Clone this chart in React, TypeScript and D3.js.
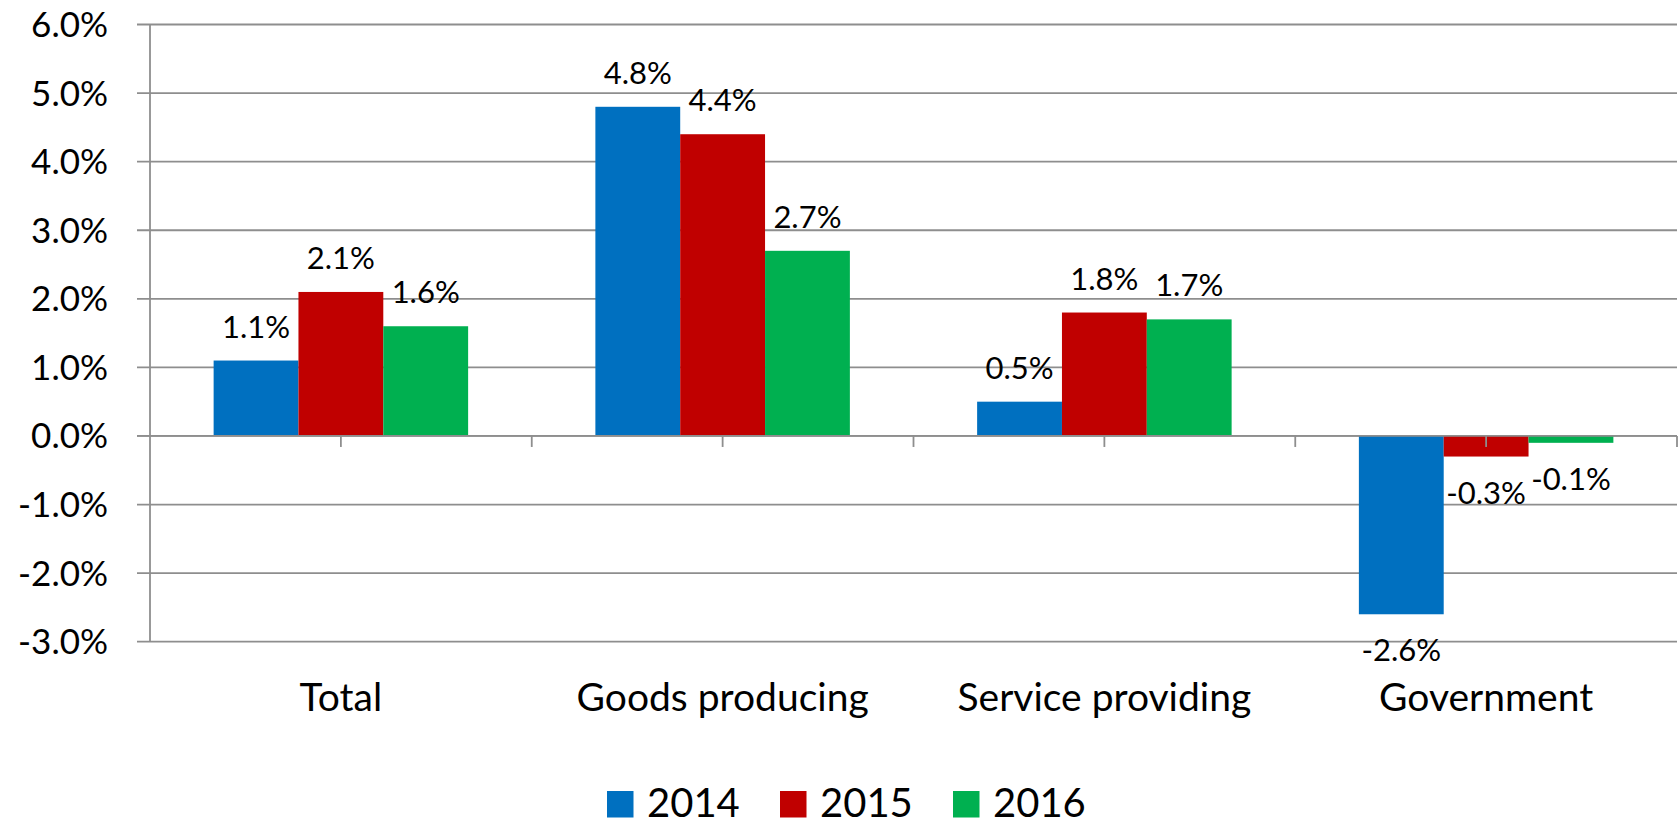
import React from "react";
import * as d3 from "d3";

const categories = ["Total", "Goods producing", "Service providing", "Government"];
const seriesNames = ["2014", "2015", "2016"];
const values2014 = [1.1, 4.8, 0.5, -2.6];
const values2015 = [2.1, 4.4, 1.8, -0.3];
const values2016 = [1.6, 2.7, 1.7, -0.1];
const seriesValues = [values2014, values2015, values2016];
const seriesColors = ["#0070C0", "#C00000", "#00B050"];
const yTicks = [-3, -2, -1, 0, 1, 2, 3, 4, 5, 6];

const W = 1679;
const H = 826;
const FONT = "Lato, 'Open Sans', sans-serif";
const GRID = "#8e8e8e";

export default function App() {
  const left = 150;
  const right = 1677;
  const top = 24.5;
  const bottom = 641.7;

  const x = d3.scaleBand<string>().domain(categories).range([left, right]).paddingInner(0).paddingOuter(0);
  const y = d3.scaleLinear().domain([-3, 6]).range([bottom, top]);
  const bw = x.bandwidth() / 4.5;
  const inner = d3.scaleBand<string>().domain(seriesNames).range([0.75 * bw, 3.75 * bw]);

  const tickXs: number[] = [];
  categories.forEach((c) => {
    tickXs.push((x(c) as number) + x.bandwidth() / 2);
    tickXs.push((x(c) as number) + x.bandwidth());
  });

  const fmt = (v: number) => `${v.toFixed(1)}%`;

  const legendStart = 607;
  const legendStride = 173;

  return (
    <svg width={W} height={H} style={{ position: "absolute", left: 0, top: 0, background: "#fff" }} fontFamily={FONT}>
      <rect x={0} y={0} width={W} height={H} fill="#fff" />
      {/* gridlines */}
      {yTicks.map((t) => (
        <line key={"g" + t} x1={137} x2={right} y1={y(t)} y2={y(t)} stroke={GRID} strokeWidth={1.8} />
      ))}
      {/* y axis */}
      <line x1={left} x2={left} y1={top} y2={bottom} stroke={GRID} strokeWidth={1.8} />
      {/* y tick labels */}
      {yTicks.map((t) => (
        <text key={"t" + t} x={108} y={y(t) + 12.5} textAnchor="end" fontSize={35} fill="#000">
          {fmt(t)}
        </text>
      ))}
      {/* bars */}
      {seriesValues.map((vals, si) =>
        vals.map((v, ci) => {
          const bx = (x(categories[ci]) as number) + (inner(seriesNames[si]) as number);
          const y0 = y(0);
          const y1 = y(v);
          return (
            <rect
              key={`b${si}-${ci}`}
              x={bx}
              y={Math.min(y0, y1)}
              width={inner.bandwidth()}
              height={Math.abs(y1 - y0)}
              fill={seriesColors[si]}
            />
          );
        })
      )}
      {/* zero line on top */}
      <line x1={137} x2={right} y1={y(0)} y2={y(0)} stroke={GRID} strokeWidth={1.8} />
      {/* category ticks */}
      {tickXs.map((tx, i) => (
        <line key={"ct" + i} x1={tx} x2={tx} y1={y(0)} y2={y(0) + 11} stroke={GRID} strokeWidth={1.8} />
      ))}
      {/* data labels */}
      {seriesValues.map((vals, si) =>
        vals.map((v, ci) => {
          const cx = (x(categories[ci]) as number) + (inner(seriesNames[si]) as number) + inner.bandwidth() / 2;
          const ty = v >= 0 ? y(v) - 23 : y(v) + 47;
          return (
            <text key={`l${si}-${ci}`} x={cx} y={ty} textAnchor="middle" fontSize={31} fill="#000">
              {fmt(v)}
            </text>
          );
        })
      )}
      {/* category labels */}
      {categories.map((c) => (
        <text key={"c" + c} x={(x(c) as number) + x.bandwidth() / 2} y={711} textAnchor="middle" fontSize={39} fill="#000">
          {c}
        </text>
      ))}
      {/* legend */}
      {seriesNames.map((s, i) => (
        <g key={"lg" + s} transform={`translate(${legendStart + i * legendStride},0)`}>
          <rect x={0} y={791} width={26.5} height={26.5} fill={seriesColors[i]} />
          <text x={40} y={817} fontSize={40} fill="#000">
            {s}
          </text>
        </g>
      ))}
    </svg>
  );
}
